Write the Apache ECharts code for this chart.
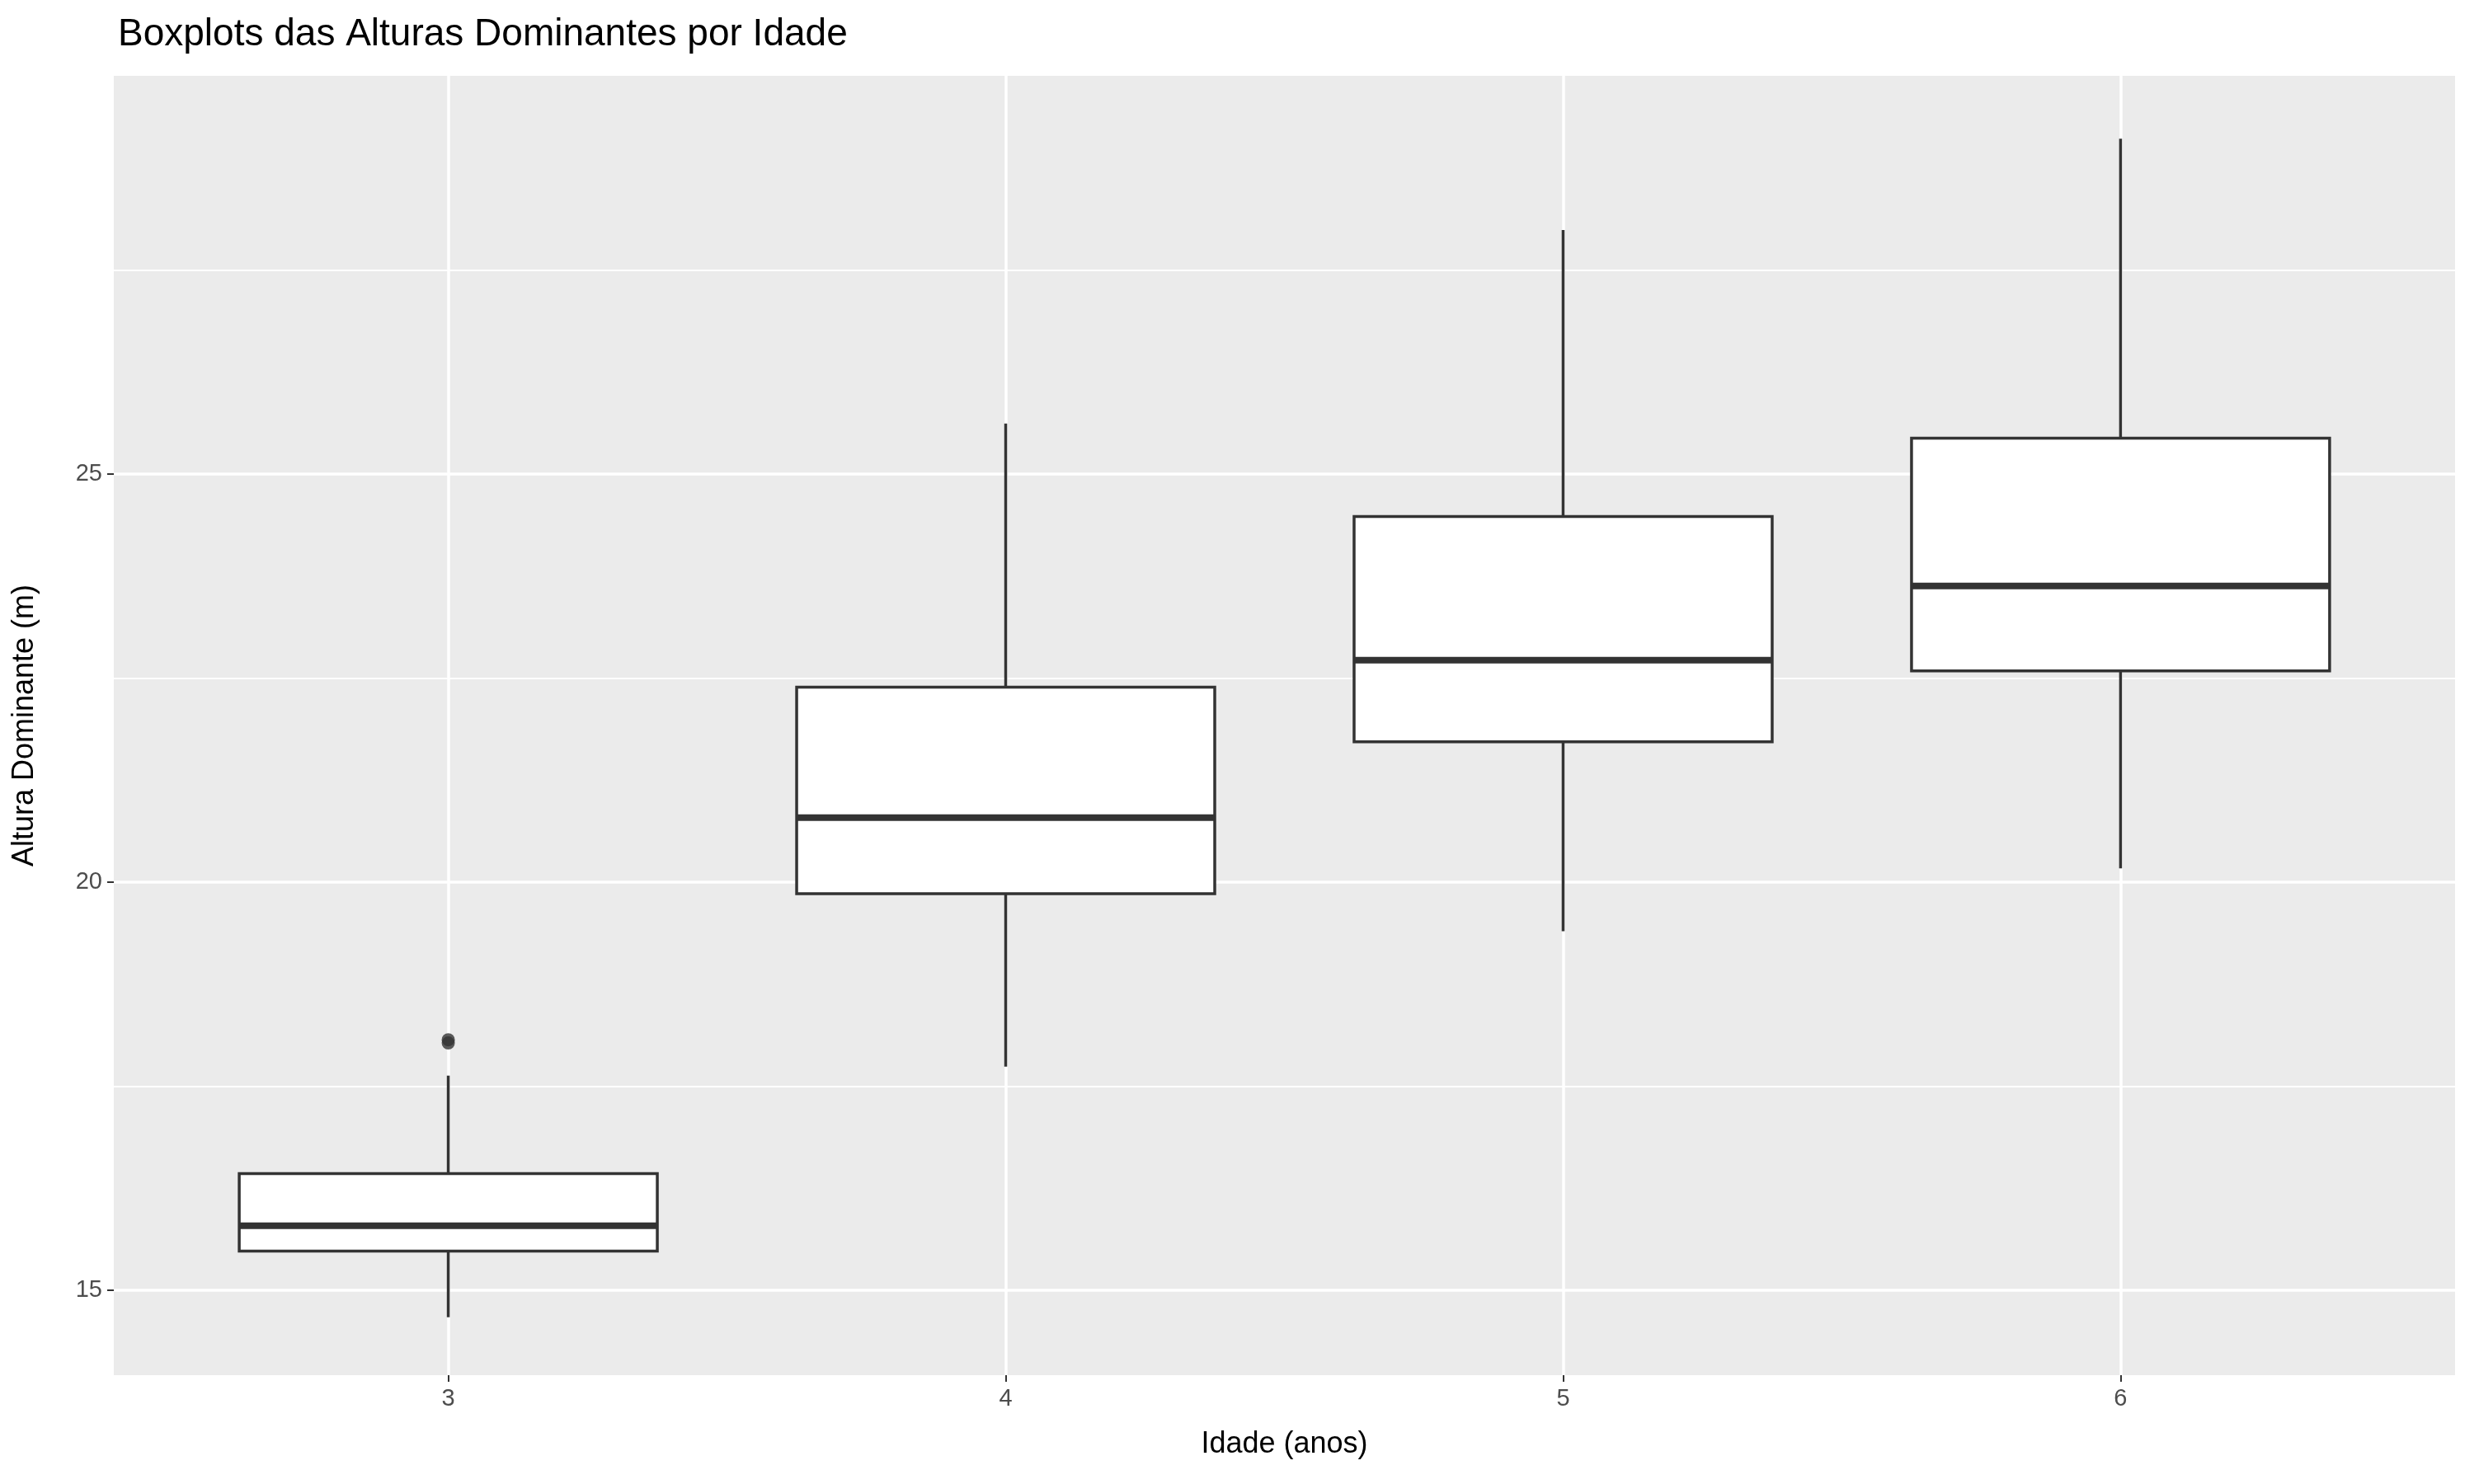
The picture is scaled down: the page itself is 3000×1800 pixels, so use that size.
<!DOCTYPE html>
<html><head><meta charset="utf-8">
<script src="https://cdn.jsdelivr.net/npm/echarts@6/dist/echarts.min.js"></script>
<style>html,body{margin:0;background:#fff}#main{width:3000px;height:1800px}</style>
</head><body><div id="main"></div>
<script>
var idades = [3, 4, 5, 6];
// [min, Q1, mediana, Q3, max]
var caixas = [
  [14.67, 15.48, 15.79, 16.43, 17.63],
  [17.74, 19.86, 20.79, 22.39, 25.62],
  [19.40, 21.72, 22.72, 24.48, 27.99],
  [20.17, 22.59, 23.63, 25.44, 29.11]
];
var outliers = [[3, 18.07], [3, 18.03]];
var gradeMaior = [15, 20, 25];
var gradeMenor = [17.5, 22.5, 27.5];

var myChart = echarts.init(document.getElementById('main'));
var font = 'Liberation Sans, Arial, sans-serif';
var hLines = gradeMaior.map(function(v){return {yAxis: v, lineStyle:{width:3.5}};})
  .concat(gradeMenor.map(function(v){return {yAxis: v, lineStyle:{width:1.8}};}))
  .concat(idades.map(function(c){return {xAxis: c, lineStyle:{width:3.5}};}));

var option = {
  animation: false,
  title: {text: 'Boxplots das Alturas Dominantes por Idade', left: 138, top: 14,
    textStyle: {fontFamily: font, fontSize: 46, fontWeight: 'normal', color: '#000'}},
  grid: {left: 138, right: 23, top: 92, bottom: 132, show: true,
    backgroundColor: '#EBEBEB', borderWidth: 0},
  xAxis: {type: 'value', min: 2.4, max: 6.6, name: 'Idade (anos)', nameLocation: 'middle', nameGap: 66,
    nameTextStyle: {fontFamily: font, fontSize: 36, color: '#000'},
    axisLine: {show: false},
    axisTick: {show: true, length: 8, customValues: idades, lineStyle: {color: '#333', width: 2}},
    axisLabel: {fontFamily: font, fontSize: 29, color: '#4D4D4D', margin: 14, customValues: idades},
    splitLine: {show: false}},
  yAxis: {type: 'value', min: 13.96, max: 29.88, name: 'Altura Dominante (m)', nameLocation: 'middle', nameGap: 90,
    nameTextStyle: {fontFamily: font, fontSize: 36, color: '#000'},
    axisLine: {show: false},
    axisTick: {show: true, length: 8, customValues: gradeMaior, lineStyle: {color: '#333', width: 2}},
    axisLabel: {fontFamily: font, fontSize: 29, color: '#4D4D4D', margin: 14, customValues: gradeMaior},
    splitLine: {show: false}},
  series: [
    {type: 'line', data: [], silent: true,
      markLine: {silent: true, symbol: 'none', label: {show: false},
        lineStyle: {color: '#fff', type: 'solid'}, data: hLines}},
    {type: 'custom', z: 6,
      data: caixas.map(function(c, i){return [idades[i]].concat(c);}),
      renderItem: function(params, api){
        var x = api.value(0);
        var lo = api.coord([x, api.value(1)]), q1 = api.coord([x, api.value(2)]),
            md = api.coord([x, api.value(3)]), q3 = api.coord([x, api.value(4)]),
            hi = api.coord([x, api.value(5)]);
        var w = api.size([0.75, 0])[0];
        var st = {stroke: '#333', lineWidth: 3.5, fill: null};
        return {type: 'group', children: [
          {type: 'line', shape: {x1: lo[0], y1: lo[1], x2: q1[0], y2: q1[1]}, style: st},
          {type: 'line', shape: {x1: q3[0], y1: q3[1], x2: hi[0], y2: hi[1]}, style: st},
          {type: 'rect', shape: {x: q1[0] - w/2, y: q3[1], width: w, height: q1[1] - q3[1]},
            style: {stroke: '#333', lineWidth: 3.5, fill: '#fff'}},
          {type: 'line', shape: {x1: md[0] - w/2, y1: md[1], x2: md[0] + w/2, y2: md[1]},
            style: {stroke: '#333', lineWidth: 8}}
        ]};
      }},
    {type: 'scatter', data: outliers, symbolSize: 16, z: 7, itemStyle: {color: '#333'}}
  ]
};
myChart.setOption(option);
</script></body></html>
